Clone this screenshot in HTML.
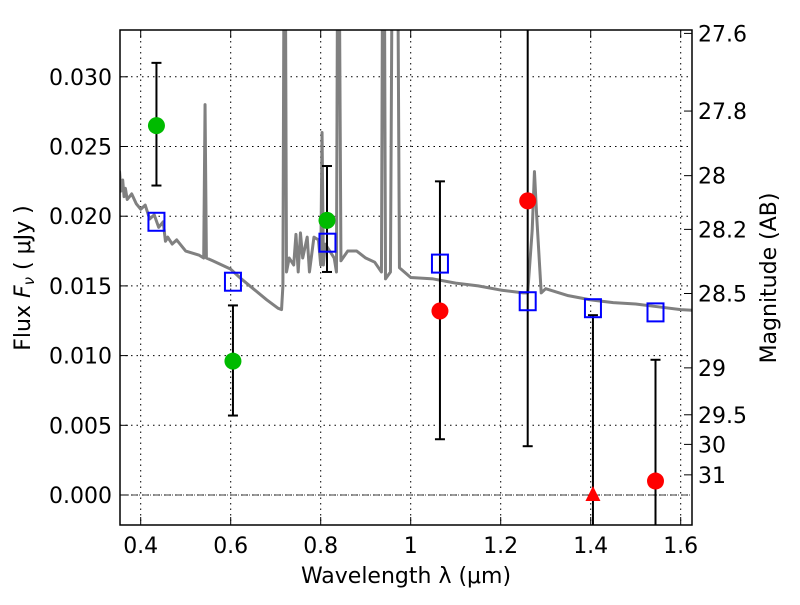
<!DOCTYPE html>
<html><head><meta charset="utf-8"><style>
body{margin:0;background:#fff}
svg text{font-family:"DejaVu Sans","Liberation Sans",sans-serif;fill:#000}
</style></head><body>
<svg id="chart" width="800" height="600" xmlns="http://www.w3.org/2000/svg">
<defs><clipPath id="clip"><rect x="120" y="30" width="572" height="495"/></clipPath></defs>
<g id="grid"></g>
<g id="spec" clip-path="url(#clip)"></g>
<g id="marks" clip-path="url(#clip)"></g>
<rect x="120" y="30" width="572" height="495" fill="none" stroke="#000" stroke-width="1.5"/>
<g id="axes"></g>
<text x="406" y="583" font-size="22" text-anchor="middle">Wavelength  λ (μm)</text>
<text transform="translate(30,278) rotate(-90)" font-size="22" text-anchor="middle">Flux  <tspan font-style="italic">F</tspan><tspan font-size="15" font-style="italic" dy="4">ν</tspan><tspan dy="-4">   ( μJy )</tspan></text>
<text transform="translate(776,278) rotate(-90)" font-size="22" text-anchor="middle">Magnitude (AB)</text>
</svg>
<script>
const xTicks=[0.4,0.6,0.8,1.0,1.2,1.4,1.6];
const xTickLabels=["0.4","0.6","0.8","1","1.2","1.4","1.6"];
const yTicks=[0,0.005,0.01,0.015,0.02,0.025,0.03];
const yTickLabels=["0.000","0.005","0.010","0.015","0.020","0.025","0.030"];
const magTicks=[27.6,27.8,28,28.2,28.5,29,29.5,30,31];
const magTickLabels=["27.6","27.8","28","28.2","28.5","29","29.5","30","31"];
const specWave=[0.34,0.345,0.35,0.353,0.356,0.36,0.363,0.366,0.37,0.38,0.39,0.40,0.41,0.42,0.43,0.44,0.45,0.455,0.46,0.47,0.48,0.50,0.53,0.54,0.543,0.546,0.56,0.6,0.62,0.65,0.68,0.705,0.713,0.716,0.718,0.722,0.724,0.73,0.74,0.745,0.75,0.755,0.76,0.77,0.775,0.785,0.795,0.80,0.803,0.806,0.81,0.83,0.835,0.837,0.842,0.845,0.86,0.88,0.90,0.92,0.935,0.937,0.942,0.944,0.955,0.958,0.972,0.975,1.0,1.05,1.1,1.15,1.2,1.25,1.26,1.27,1.275,1.28,1.29,1.3,1.35,1.4,1.45,1.5,1.55,1.6,1.65];
const specFlux=[0.0235,0.0228,0.0222,0.0232,0.0218,0.0226,0.0214,0.022,0.0212,0.0216,0.0209,0.0205,0.0208,0.0198,0.0201,0.0192,0.0196,0.0182,0.0185,0.018,0.0183,0.0175,0.0172,0.017,0.028,0.017,0.0168,0.0162,0.0156,0.0148,0.0140,0.0134,0.0133,0.015,0.034,0.034,0.016,0.017,0.0165,0.0187,0.016,0.0188,0.017,0.0185,0.0160,0.0185,0.0183,0.0165,0.026,0.0165,0.0180,0.017,0.016,0.034,0.034,0.0168,0.0175,0.0175,0.0170,0.0167,0.0160,0.034,0.034,0.0155,0.016,0.034,0.034,0.0163,0.0156,0.0155,0.0152,0.015,0.0147,0.0145,0.0145,0.019,0.0232,0.020,0.0145,0.0148,0.0143,0.0140,0.0138,0.0137,0.0135,0.0133,0.0132];
const greenWave=[0.435,0.605,0.814];
const greenFlux=[0.0265,0.0096,0.0197];
const greenErrHi=[0.031,0.0136,0.0236];
const greenErrLo=[0.0222,0.0057,0.016];
const redWave=[1.065,1.26,1.544];
const redFlux=[0.0132,0.0211,0.001];
const redErrHi=[0.0225,0.0345,0.0097];
const redErrLo=[0.004,0.0035,-0.005];
const limitWave=[1.405];
const limitFlux=[0.0];
const limitErrHi=[0.0129];
const limitErrLo=[-0.005];
const modelWave=[0.435,0.605,0.815,1.065,1.26,1.405,1.544];
const modelFlux=[0.0196,0.0153,0.0181,0.0166,0.0139,0.0134,0.0131];

const X=v=>140.7+(v-0.4)*450;
const Y=f=>495-f*13940;
const magY=m=>Y(Math.pow(10,(23.9-m)/2.5));
const NS="http://www.w3.org/2000/svg";
function mk(tag,attrs,parent){const e=document.createElementNS(NS,tag);for(const k in attrs)e.setAttribute(k,attrs[k]);parent.appendChild(e);return e;}
const grid=document.getElementById('grid'),axes=document.getElementById('axes'),spec=document.getElementById('spec'),marks=document.getElementById('marks');
xTicks.forEach((t,i)=>{const x=X(t);
 const g=mk('line',{x1:x,x2:x,y1:30,y2:525,stroke:'#000','stroke-width':1,'stroke-dasharray':'1.5,4'},grid);
 
 mk('line',{x1:x,x2:x,y1:525,y2:517,stroke:'#000'},axes);mk('line',{x1:x,x2:x,y1:30,y2:38,stroke:'#000'},axes);
 const tx=mk('text',{x:x,y:553,'font-size':22,'text-anchor':'middle'},axes);tx.textContent=xTickLabels[i];
 });
yTicks.forEach((t,i)=>{const y=Y(t);
 const g=mk('line',{x1:120,x2:692,y1:y,y2:y,stroke:'#000','stroke-width':1,'stroke-dasharray':'1.5,4'},grid);
 
 mk('line',{x1:120,x2:128,y1:y,y2:y,stroke:'#000'},axes);
 const tx=mk('text',{x:112,y:y+8,'font-size':22,'text-anchor':'end'},axes);tx.textContent=yTickLabels[i];
 });
magTicks.forEach((m,i)=>{const y=magY(m);
 mk('line',{x1:684,x2:692,y1:y,y2:y,stroke:'#000'},axes);
 const tx=mk('text',{x:698,y:y+8,'font-size':22},axes);tx.textContent=magTickLabels[i];
 });
const zl=mk('line',{x1:120,x2:692,y1:Y(0),y2:Y(0),stroke:'#000','stroke-width':0.8,'stroke-dasharray':'6,2,1,2'},grid);

const sp=mk('polyline',{points:specWave.map((w,i)=>X(w)+','+Y(specFlux[i])).join(' '),fill:'none',stroke:'#808080','stroke-width':3,'stroke-linejoin':'round'},spec);

function err(w,hi,lo){const x=X(w);
 const l=mk('line',{x1:x,x2:x,y1:Y(hi),y2:Y(lo),stroke:'#000','stroke-width':2},marks);
 
 mk('line',{x1:x-5,x2:x+5,y1:Y(hi),y2:Y(hi),stroke:'#000','stroke-width':2},marks);
 mk('line',{x1:x-5,x2:x+5,y1:Y(lo),y2:Y(lo),stroke:'#000','stroke-width':2},marks);}
greenWave.forEach((w,i)=>err(w,greenErrHi[i],greenErrLo[i]));
redWave.forEach((w,i)=>err(w,redErrHi[i],redErrLo[i]));
limitWave.forEach((w,i)=>err(w,limitErrHi[i],limitErrLo[i]));
modelWave.forEach((w,i)=>{const r=mk('rect',{x:X(w)-8,y:Y(modelFlux[i])-9,width:16,height:18,fill:'none',stroke:'#0000ff','stroke-width':2},marks);
 });
greenWave.forEach((w,i)=>{const c=mk('circle',{cx:X(w),cy:Y(greenFlux[i]),r:8.5,fill:'#00bb00'},marks);
 });
redWave.forEach((w,i)=>{const c=mk('circle',{cx:X(w),cy:Y(redFlux[i]),r:8.5,fill:'#ff0000'},marks);
 });
limitWave.forEach((w,i)=>{const x=X(w),y=Y(limitFlux[i]);
 const p=mk('polygon',{points:`${x},${y-9} ${x-7.5},${y+6} ${x+7.5},${y+6}`,fill:'#ff0000'},marks);
 });
</script>
</body></html>
